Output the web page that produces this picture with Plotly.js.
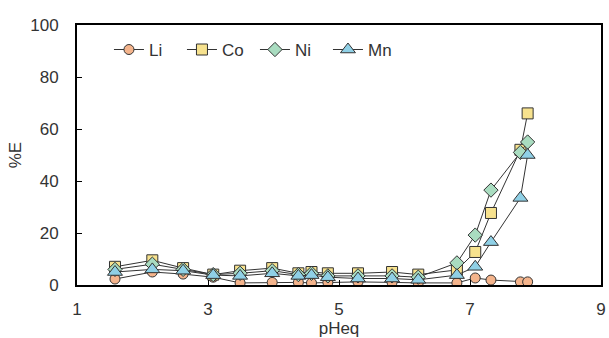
<!DOCTYPE html>
<html>
<head>
<meta charset="utf-8">
<script src="https://cdn.plot.ly/plotly-3.0.1.min.js"></script>
<style>html,body{margin:0;padding:0;background:#fff;}#chart{width:609px;height:338px;}</style>
</head>
<body>
<div id="chart"></div>
<script>
const pH = [1.58, 2.15, 2.62, 3.08, 3.49, 3.98, 4.38, 4.58, 4.83, 5.29, 5.81, 6.21, 6.80, 7.08, 7.32, 7.77, 7.88];
const li = [2.3, 5.0, 4.2, 3.0, 0.8, 1.0, 1.0, 0.8, 1.0, 1.2, 1.0, 0.8, 0.8, 2.7, 1.9, 1.2, 1.2];
const co = [7.0, 9.5, 6.5, 4.0, 5.5, 6.5, 4.5, 5.0, 4.5, 4.5, 5.0, 4.0, 5.8, 12.7, 27.7, 52, 66];
const ni = [6.0, 8.0, 6.0, 4.0, 4.5, 5.5, 4.0, 4.5, 3.5, 3.5, 3.5, 3.0, 8.5, 19.2, 36.5, 51, 55];
const mn = [5.0, 6.0, 5.5, 3.8, 3.5, 4.5, 3.5, 3.8, 3.0, 2.5, 2.5, 2.0, 3.8, 7.0, 16.5, 33.5, 50];
const seriesNames = ['Li', 'Co', 'Ni', 'Mn'];

const styles = [
  {symbol: 'circle', color: '#f4b48c', size: 10},
  {symbol: 'square', color: '#f7e28e', size: 11},
  {symbol: 'diamond', color: '#a9dcc0', size: 11},
  {symbol: 'triangle-up', color: '#8fd0e6', size: 13}
];
const vals = [li, co, ni, mn];
const traces = vals.map((v, i) => ({
  x: pH, y: v, name: seriesNames[i], type: 'scatter', mode: 'lines+markers',
  line: {color: '#333333', width: 1},
  marker: {symbol: styles[i].symbol, size: styles[i].size, color: styles[i].color,
           line: {color: '#333333', width: 1}}
}));

const font = {family: 'Liberation Sans, Arial, sans-serif', size: 17, color: '#333333'};
const layout = {
  width: 609, height: 338,
  margin: {l: 77, r: 8, t: 25, b: 53},
  paper_bgcolor: '#fff', plot_bgcolor: '#fff',
  font: font,
  showlegend: true,
  legend: {orientation: 'h', x: 0.061, y: 0.904, xanchor: 'left', yanchor: 'middle',
           font: font, bgcolor: 'rgba(0,0,0,0)', entrywidth: 28, entrywidthmode: 'pixels',
           itemwidth: 30},
  xaxis: {range: [1, 9], dtick: 2, tick0: 1, ticks: 'inside', ticklen: 5, tickcolor: '#000',
          showline: true, linecolor: '#000', linewidth: 2, mirror: true, showgrid: false,
          zeroline: false, tickfont: font, ticklabelstandoff: 8,
          title: {text: 'pHeq', font: font, standoff: 0}},
  yaxis: {range: [0, 100], dtick: 20, ticks: 'inside', ticklen: 5, tickcolor: '#000',
          showline: true, linecolor: '#000', linewidth: 2, mirror: true, showgrid: false,
          zeroline: false, tickfont: font, ticklabelstandoff: 13,
          title: {text: '%E', font: font, standoff: 4}}
};
Plotly.newPlot('chart', traces, layout, {displayModeBar: false, staticPlot: true});
</script>
</body>
</html>
